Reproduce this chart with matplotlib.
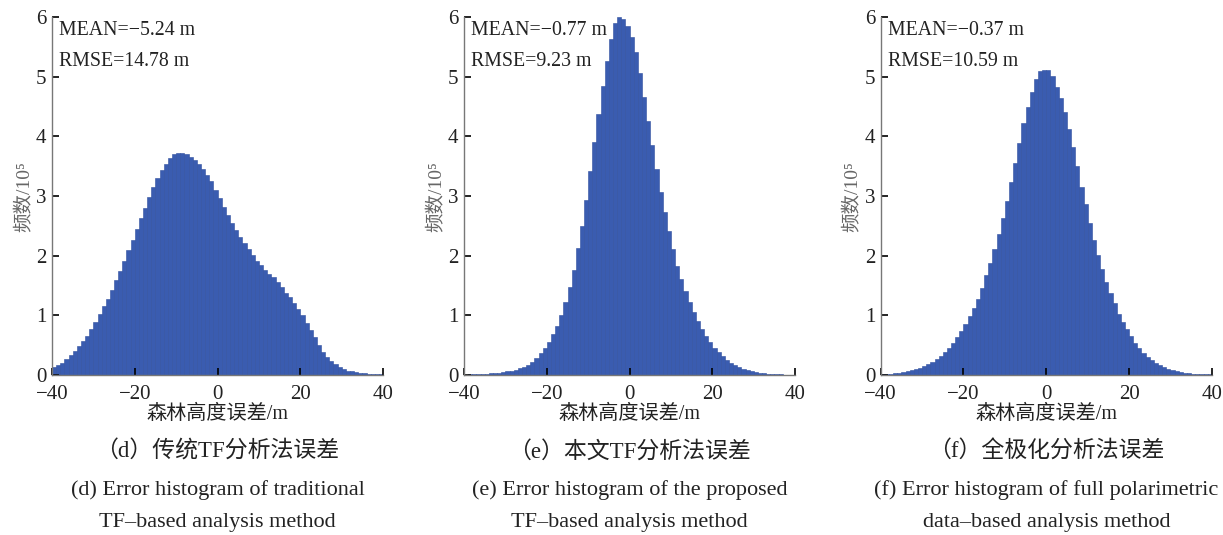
import numpy as np
import matplotlib
matplotlib.use('Agg')
import matplotlib.pyplot as plt

plt.rcParams['font.family'] = ['Liberation Serif', 'Noto Sans CJK SC', 'DejaVu Sans']

# bin edges -40..40, width 1 m ; counts in 10^5
bin_edges = np.arange(-40, 41, 1)

counts_d = [0.14, 0.17, 0.21, 0.27, 0.33, 0.41, 0.48, 0.57, 0.66, 0.77,
            0.89, 1.02, 1.15, 1.28, 1.43, 1.59, 1.75, 1.92, 2.09, 2.27,
            2.45, 2.63, 2.80, 2.98, 3.15, 3.31, 3.43, 3.54, 3.64, 3.71,
            3.72, 3.72, 3.71, 3.66, 3.60, 3.53, 3.45, 3.36, 3.25, 3.10,
            2.97, 2.82, 2.68, 2.55, 2.43, 2.32, 2.21, 2.11, 2.01, 1.92,
            1.85, 1.76, 1.69, 1.64, 1.56, 1.47, 1.38, 1.30, 1.21, 1.11,
            1.00, 0.88, 0.76, 0.63, 0.51, 0.39, 0.31, 0.24, 0.18, 0.14,
            0.10, 0.075, 0.06, 0.045, 0.035, 0.028, 0.02, 0.015, 0.012, 0.01]

counts_e = [0.008, 0.01, 0.012, 0.015, 0.018, 0.022, 0.027, 0.033, 0.04, 0.05,
            0.062, 0.075, 0.09, 0.11, 0.135, 0.165, 0.22, 0.29, 0.37, 0.45,
            0.55, 0.68, 0.83, 1.01, 1.22, 1.48, 1.76, 2.13, 2.50, 2.93,
            3.42, 3.90, 4.37, 4.85, 5.27, 5.63, 5.90, 6.00, 5.97, 5.85,
            5.66, 5.41, 5.06, 4.66, 4.26, 3.85, 3.45, 3.06, 2.73, 2.41,
            2.11, 1.83, 1.61, 1.41, 1.23, 1.06, 0.91, 0.78, 0.66, 0.56,
            0.46, 0.39, 0.32, 0.26, 0.21, 0.16, 0.13, 0.10, 0.08, 0.06,
            0.045, 0.035, 0.027, 0.02, 0.016, 0.012, 0.009, 0.007, 0.005, 0.004]

counts_f = [0.015, 0.02, 0.025, 0.03, 0.04, 0.05, 0.065, 0.08, 0.10, 0.12,
            0.15, 0.18, 0.22, 0.27, 0.32, 0.39, 0.46, 0.54, 0.64, 0.74,
            0.85, 0.99, 1.13, 1.28, 1.46, 1.68, 1.88, 2.11, 2.36, 2.64,
            2.91, 3.24, 3.56, 3.89, 4.22, 4.50, 4.75, 4.96, 5.10, 5.12,
            5.12, 5.01, 4.83, 4.65, 4.41, 4.13, 3.83, 3.50, 3.16, 2.86,
            2.55, 2.27, 2.01, 1.78, 1.56, 1.37, 1.20, 1.03, 0.89, 0.77,
            0.65, 0.54, 0.45, 0.37, 0.31, 0.25, 0.21, 0.16, 0.13, 0.10,
            0.08, 0.065, 0.05, 0.04, 0.03, 0.025, 0.02, 0.015, 0.012, 0.01]

stats = [('MEAN=\u22125.24 m', 'RMSE=14.78 m'),
         ('MEAN=\u22120.77 m', 'RMSE=9.23 m'),
         ('MEAN=\u22120.37 m', 'RMSE=10.59 m')]

captions_cn = ['（d）传统TF分析法误差', '（e）本文TF分析法误差', '（f）全极化分析法误差']
captions_en = [('(d) Error histogram of traditional', 'TF\u2013based analysis method'),
               ('(e) Error histogram of the proposed', 'TF\u2013based analysis method'),
               ('(f) Error histogram of full polarimetric', 'data\u2013based analysis method')]

all_counts = [counts_d, counts_e, counts_f]
lefts = [0.0425, 0.3794, 0.7201]

fig = plt.figure(figsize=(12.23, 5.35), dpi=100)

for i, counts in enumerate(all_counts):
    ax = fig.add_axes([lefts[i], 0.299, 0.2708, 0.669])
    ax.bar(bin_edges[:-1], counts, width=1.0, align='edge',
           color='#3a5cb0', edgecolor='#2f4f9e', linewidth=0.4)
    ax.set_xlim(-40, 40)
    ax.set_ylim(0, 6)
    ax.set_xticks([-40, -20, 0, 20, 40])
    ax.set_xticklabels(['\u221240', '\u221220', '0', '20', '40'])
    ax.set_yticks(range(7))
    for s in ['top', 'right']:
        ax.spines[s].set_visible(False)
    for s in ['left', 'bottom']:
        ax.spines[s].set_color('#777777')
        ax.spines[s].set_linewidth(1.0)
    ax.tick_params(direction='in', length=5, width=1.2, labelsize=15,
                   color='black', labelcolor='#222222')
    ax.tick_params(axis='x', pad=7)
    ax.tick_params(axis='y', pad=4)
    ax.set_xlabel('森林高度误差/m', fontsize=14.5, labelpad=1, color='#222222')
    ax.set_ylabel('频数/10\u2075', fontsize=14, labelpad=2, color='#666666')

    ax.text(0.022, 0.963, stats[i][0], transform=ax.transAxes,
            fontsize=14.3, va='center', ha='left', color='#222222')
    ax.text(0.022, 0.877, stats[i][1], transform=ax.transAxes,
            fontsize=14.3, va='center', ha='left', color='#222222')

    cx = lefts[i] + 0.2708 / 2
    fig.text(cx, 1 - 452 / 535, captions_cn[i], fontsize=16.5,
             ha='center', va='center', color='#222222')
    fig.text(cx, 1 - 490 / 535, captions_en[i][0], fontsize=16,
             ha='center', va='center', color='#222222')
    fig.text(cx, 1 - 523 / 535, captions_en[i][1], fontsize=16,
             ha='center', va='center', color='#222222')

fig.savefig('out.png', dpi=100, facecolor='white')
